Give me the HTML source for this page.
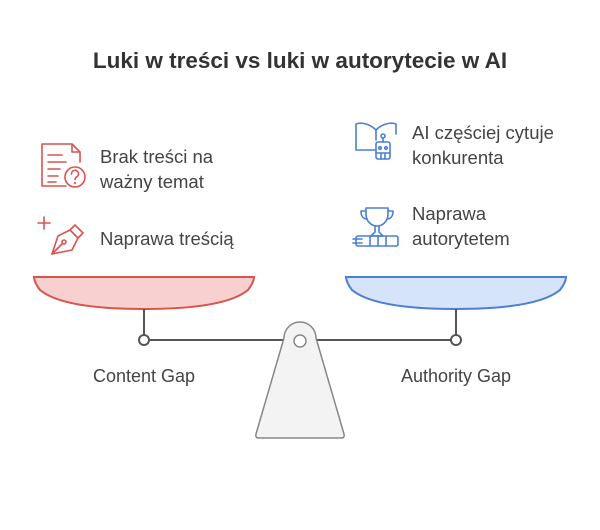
<!DOCTYPE html>
<html><head><meta charset="utf-8"><style>
body{margin:0;background:#fff;}
svg text{font-family:"Liberation Sans",sans-serif;}
</style></head><body>
<svg width="600" height="525" viewBox="0 0 600 525" xmlns="http://www.w3.org/2000/svg">
<rect width="600" height="525" fill="#fff"/>
<text x="300" y="68" text-anchor="middle" font-size="22.5" font-weight="bold" fill="#333">Luki w treści vs luki w autorytecie w AI</text>

<!-- left icons -->
<g fill="none" stroke="#d9534f" stroke-width="1.6" stroke-linecap="round" stroke-linejoin="round">
<path d="M66 186 H42 V144 H72 L80 152 V162"/>
<path d="M72 144 V152 H80"/>
<line x1="48" y1="155" x2="62" y2="155"/><line x1="48" y1="162" x2="66" y2="162"/>
<line x1="48" y1="169" x2="60" y2="169"/><line x1="48" y1="176" x2="58" y2="176"/><line x1="48" y1="182" x2="56" y2="182"/>
<circle cx="75" cy="177" r="10"/>
<path d="M71.5 174 a3.5 3.5 0 1 1 5 3 c-1 .6 -1.5 1.2 -1.5 2.5"/><circle cx="75" cy="183" r=".4"/>
<line x1="44" y1="217" x2="44" y2="229"/><line x1="38" y1="223" x2="50" y2="223"/>
<path d="M52 254 L58 236 L70 230 L78 238 L72 250 Z"/>
<path d="M70 230 L75 225 L83 233 L78 238"/>
<line x1="52" y1="254" x2="62" y2="244"/><circle cx="64" cy="242" r="2"/>
</g>
<g font-size="18.5" fill="#444">
<text x="100" y="163">Brak treści na</text>
<text x="100" y="188">ważny temat</text>
<text x="100" y="245">Naprawa treścią</text>
</g>

<!-- right icons -->
<g fill="none" stroke="#4a7fd4" stroke-width="1.6" stroke-linecap="round" stroke-linejoin="round">
<path d="M376 150 H356 V124 C362 122 370 124 376 130 C382 124 390 122 396 124 V134"/>
<line x1="376" y1="130" x2="376" y2="140"/>
<circle cx="383" cy="136" r="2"/><line x1="383" y1="138" x2="383" y2="142"/>
<rect x="376" y="142" width="14" height="17" rx="2"/>
<circle cx="380" cy="148" r="1.3"/><circle cx="386" cy="148" r="1.3"/>
<line x1="376" y1="153" x2="390" y2="153"/><line x1="381" y1="153" x2="381" y2="159"/><line x1="385" y1="153" x2="385" y2="159"/>
<path d="M366 208 H388 V214 C388 222 382 226 377 226 C372 226 366 222 366 214 Z"/>
<path d="M366 211 H361 C361 217 364 219 367 219"/><path d="M388 211 H393 C393 217 390 219 387 219"/>
<path d="M375 226 V232 L371 236 H383 L379 232 V226"/>
<rect x="356" y="236" width="42" height="10" rx="2"/>
<line x1="353" y1="239" x2="362" y2="239"/><line x1="353" y1="243" x2="362" y2="243"/>
<line x1="370" y1="236" x2="370" y2="246"/><line x1="378" y1="236" x2="378" y2="246"/><line x1="386" y1="236" x2="386" y2="246"/>
</g>
<g font-size="18.5" fill="#444">
<text x="412" y="139">AI częściej cytuje</text>
<text x="412" y="164">konkurenta</text>
<text x="412" y="220">Naprawa</text>
<text x="412" y="245">autorytetem</text>
</g>

<!-- scale -->
<path d="M34 277 H254 Q254 282 248 290 Q225 309 144 309 Q63 309 40 290 Q34 282 34 277 Z" fill="#f9d0d0" stroke="#d9534f" stroke-width="2"/>
<path d="M346 277 H566 Q566 282 560 290 Q537 309 456 309 Q375 309 352 290 Q346 282 346 277 Z" fill="#d6e4fa" stroke="#4a7fd4" stroke-width="2"/>
<g stroke="#555" stroke-width="2" fill="none">
<line x1="144" y1="309" x2="144" y2="335"/>
<line x1="456" y1="309" x2="456" y2="335"/>
<line x1="149" y1="340" x2="451" y2="340"/>
</g>
<path d="M284 338 A16 16 0 0 1 316 338 L344 434 Q345 438 341 438 H259 Q255 438 256 434 Z" fill="#f3f3f3" stroke="#888" stroke-width="1.5"/>
<circle cx="300" cy="341" r="6" fill="#fff" stroke="#888" stroke-width="1.5"/>
<circle cx="144" cy="340" r="5" fill="#fff" stroke="#555" stroke-width="2"/>
<circle cx="456" cy="340" r="5" fill="#fff" stroke="#555" stroke-width="2"/>
<g font-size="18" fill="#444" text-anchor="middle">
<text x="144" y="382">Content Gap</text>
<text x="456" y="382">Authority Gap</text>
</g>
</svg>
</body></html>
